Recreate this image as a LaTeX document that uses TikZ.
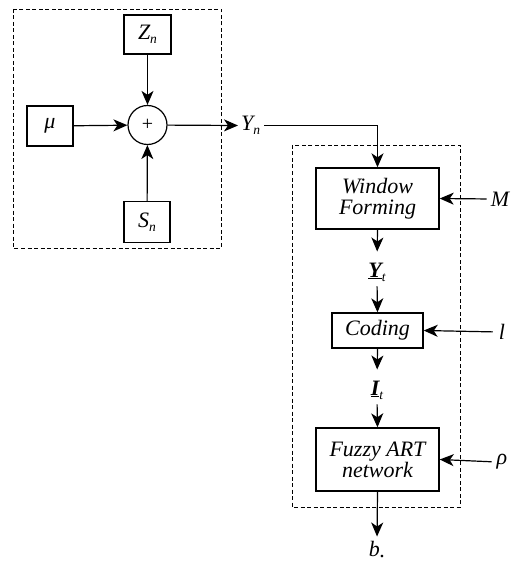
\documentclass[tikz,border=0pt]{standalone}
\usepackage{fontspec}
\setmainfont{Liberation Serif}[ItalicFont={Liberation Serif Italic},BoldItalicFont={Liberation Serif Bold Italic}]
\usetikzlibrary{arrows.meta}
\newcommand{\sub}[1]{\raisebox{-0.4ex}{\fontsize{13.5}{13.5}\selectfont\textit{#1}}}
\begin{document}
\begin{tikzpicture}[x=1pt,y=-1pt,
  every node/.style={font=\fontsize{22}{24}\selectfont\itshape},
  blk/.style n args={2}{draw,line width=1.4pt,minimum width=#1,minimum height=#2,inner sep=0pt,align=center},
  dbox/.style={draw,line width=0.9pt,dash pattern=on 4pt off 2.5pt},
  arr/.style={line width=1.2pt,-{Stealth[length=14pt,width=12pt,inset=4pt]}},
  lbl/.style={inner sep=0pt}]
\useasboundingbox (0,0) rectangle (515,564);
% left group
\draw[dbox] (13,9) rectangle (221,248);
\node[blk={47pt}{39pt}] (Z) at (147.5,34.5) {Z\sub{n}};
\node[blk={46pt}{40pt}] (mu) at (50,126) {μ};
\node[draw,circle,line width=1.2pt,minimum size=39pt,inner sep=0pt,font=\fontsize{20}{20}\selectfont\upshape] (sum) at (147.5,125) {+};
\node[blk={46pt}{41pt}] (S) at (147,222) {S\sub{n}};
\node[lbl,anchor=west] (Yn) at (241,125.5) {Y\sub{n}};
\draw[arr] (Z) -- (sum);
\draw[arr] (S) -- (sum);
\draw[arr] (mu) -- (sum);
\draw[arr] (sum) -- ([xshift=-3pt]Yn.west);
% right group
\draw[dbox] (292,145) rectangle (460,507);
\node[blk={123pt}{61pt}] (WF) at (377.5,198.5) {Window\\[-3pt]Forming};
\node[blk={91pt}{35pt}] (Cod) at (377.5,330.5) {Coding};
\node[blk={123pt}{63pt}] (FA) at (377.5,459.5) {Fuzzy ART\\[-3pt]network};
\node[lbl] (M) at (500,199) {M};
\node[lbl] (l) at (502,332) {l};
\node[lbl] (rho) at (502,462) {ρ};
\node[lbl] (Yt) at (377,272) {\underline{\textbf{Y}}\sub{t}};
\node[lbl] (It) at (377,390) {\underline{\textbf{I}}\sub{t}};
\node[lbl] (b) at (377,550) {b\raisebox{-0.1ex}{.}};
\draw[arr] ([xshift=4pt]Yn.east) -| (WF.north);
\draw[arr,shorten >=11pt] (WF.south) -- (Yt.north);
\draw[arr,shorten <=5pt] (Yt.south) -- (Cod.north);
\draw[arr,shorten >=11pt] (Cod.south) -- (It.north);
\draw[arr,shorten <=5pt] (It.south) -- (FA.north);
\draw[arr,shorten >=5pt] (FA.south) -- (b.north);
\draw[arr,shorten <=4pt] (M.west) -- (WF.east);
\draw[arr,shorten <=6pt] (l.west) -- (Cod.east);
\draw[arr,shorten <=5pt] (rho.west) -- (FA.east);
\end{tikzpicture}
\end{document}
